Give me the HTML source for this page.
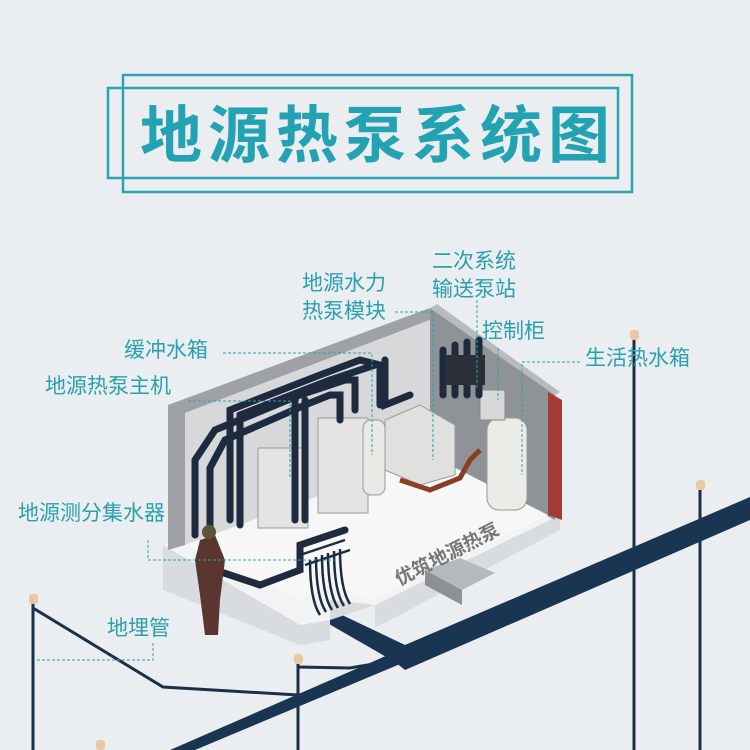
<!DOCTYPE html>
<html><head><meta charset="utf-8"><style>
html,body{margin:0;padding:0;background:#eaeef1;}
svg{display:block}
.l{font-family:"Liberation Sans","Noto Sans CJK SC",sans-serif;font-size:21px;fill:#2a9fb0;}
.d{stroke:#2aa3b3;stroke-width:1;stroke-dasharray:3,2;fill:none}
</style></head><body>
<svg width="750" height="750" viewBox="0 0 750 750" xmlns="http://www.w3.org/2000/svg">
<rect width="750" height="750" fill="#eaeef1"/>
<rect x="123" y="75" width="509" height="117" fill="none" stroke="#2aa3b3" stroke-width="2.5"/>
<rect x="108" y="88" width="510" height="90" fill="none" stroke="#2aa3b3" stroke-width="2.5"/>
<text x="378" y="157" text-anchor="middle" style="font-family:'Liberation Sans','Noto Sans CJK SC',sans-serif;font-size:62px;font-weight:bold;fill:#22a2b2;letter-spacing:6px">地源热泵系统图</text>

<g stroke="#1b2f48" stroke-width="3" fill="none">
<line x1="33" y1="600" x2="33" y2="750"/>
<line x1="298" y1="660" x2="298" y2="750"/>
<line x1="634" y1="335" x2="634" y2="750"/>
<line x1="700" y1="485" x2="700" y2="750"/>
<polyline points="33,608 163,687 298,695"/>
<polyline points="298,667 350,668 385,662"/>
</g>
<g fill="#e7c9a4"><rect x="29" y="594" width="9" height="10" rx="3"/><rect x="294" y="654" width="9" height="10" rx="3"/><rect x="630" y="330" width="9" height="10" rx="3"/><rect x="696" y="480" width="9" height="10" rx="3"/><rect x="96" y="740" width="9" height="10" rx="3"/></g>
<polygon points="322,620 342,615 405,645 750,497 750,520 405,670 395,662" fill="#1a3552"/>
<polygon points="388,655 405,662 195,750 170,750" fill="#1a3552"/>

<polygon points="163,545 163,590 300,645 330,640 330,620 375,605 375,628 560,530 560,515 430,455" fill="#d9dcde"/>
<polygon points="163,545 430,455 560,515 375,605 330,600 330,620 300,625" fill="#f2f3f4"/>
<polygon points="168,405 430,308 430,320 185,413 185,545 168,550" fill="#9ea2a6"/>
<polygon points="185,413 430,320 430,455 185,545" fill="#d6d8da"/>
<polygon points="430,308 555,395 555,520 430,455" fill="#8f9296"/>
<polygon points="430,308 437,304 560,392 555,395" fill="#b8bbbe"/>
<polygon points="548,392 562,400 562,520 548,515" fill="#a33b36"/>
<polygon points="185,545 430,455 548,515 370,600 330,585 300,600" fill="#f7f7f7"/>
<rect x="258" y="448" width="50" height="80" fill="#e4e4e2" stroke="#999"/>
<rect x="318" y="418" width="50" height="95" fill="#e4e4e2" stroke="#999"/>
<rect x="363" y="420" width="22" height="75" rx="8" fill="#e9e9e6" stroke="#999"/>
<polygon points="385,420 420,405 455,425 455,475 420,485 385,470" fill="#e0e0de" stroke="#999"/>
<rect x="487" y="418" width="40" height="92" rx="12" fill="#ebebe8" stroke="#999"/>
<rect x="480" y="390" width="25" height="30" fill="#d8d8d8" stroke="#888"/>
<g stroke="#1e2a3e" stroke-width="7" fill="none" stroke-linecap="round">
<polyline points="195,535 195,460 215,430 300,395 345,380 355,380 355,410"/>
<polyline points="210,530 210,468 225,440 305,405 330,395 340,395 340,420"/>
<polyline points="240,525 240,415 330,380 375,365"/>
<polyline points="230,520 230,410 320,375 360,360 380,365 380,405"/>
<polyline points="295,520 295,395"/>
<polyline points="305,520 305,400"/>
<polyline points="385,360 385,405 410,395"/>
<polyline points="443,350 443,395"/><polyline points="455,345 455,395"/><polyline points="467,342 467,395"/><polyline points="479,340 479,395"/>
<polyline points="215,570 260,585 300,570 300,545 345,530"/>
</g>
<g stroke="#8b3f22" stroke-width="5" fill="none"><polyline points="400,480 430,490 460,478 470,460 480,450"/></g>
<rect x="445" y="355" width="40" height="30" fill="#2a2f38"/>
<polygon points="425,570 460,558 495,573 462,590" fill="#b6b9bc"/>
<polygon points="425,570 462,590 462,605 425,585" fill="#8d9094"/>
<text x="450" y="560" transform="rotate(-27 450 560)" text-anchor="middle" style="font-family:'Noto Sans CJK SC',sans-serif;font-size:19px;font-weight:bold;fill:#777">优筑地源热泵</text>
<g stroke="#1e2a3e" stroke-width="2.5" fill="none"><path d="M300 555 L345 540 M305 565 L350 550"/>
<path d="M310 560 q0 40 10 55 M316 557 q0 40 10 55 M322 555 q0 40 10 55 M328 553 q0 40 10 55 M334 551 q0 40 10 55 M340 549 q0 40 10 55"/></g>
<polygon points="200,540 215,535 225,560 220,600 218,635 205,635 200,595 195,560" fill="#5b3530"/>
<circle cx="209" cy="532" r="7" fill="#5c5437"/>

<text class="l" x="302" y="290">地源水力</text>
<text class="l" x="302" y="318">热泵模块</text>
<text class="l" x="432" y="268">二次系统</text>
<text class="l" x="432" y="296">输送泵站</text>
<text class="l" x="482" y="338">控制柜</text>
<text class="l" x="124" y="357">缓冲水箱</text>
<text class="l" x="585" y="365">生活热水箱</text>
<text class="l" x="45" y="393">地源热泵主机</text>
<text class="l" x="18" y="520">地源测分集水器</text>
<text class="l" x="107" y="635">地埋管</text>
<polyline class="d" points="223,353 372,353 372,455"/>
<polyline class="d" points="188,401 290,401 290,478"/>
<polyline class="d" points="395,312 433,312 433,460"/>
<polyline class="d" points="477,300 477,390"/>
<polyline class="d" points="498,348 498,400"/>
<polyline class="d" points="580,362 522,362 522,475"/>
<polyline class="d" points="148,540 148,560 340,560"/>
<polyline class="d" points="153,643 153,660 35,660"/>
</svg>
</body></html>
